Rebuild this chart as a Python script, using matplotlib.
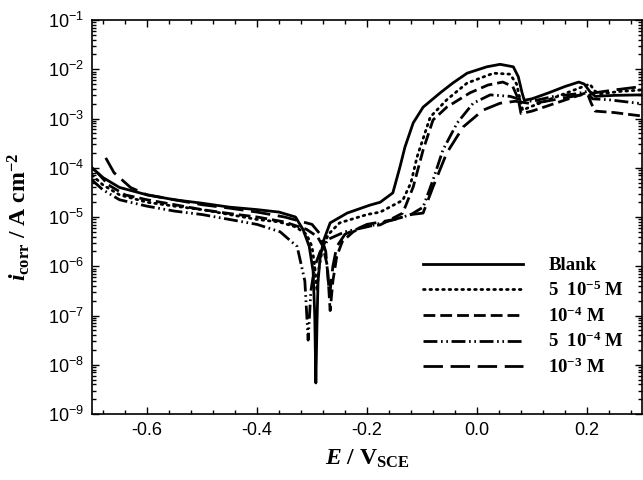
import numpy as np
import matplotlib
matplotlib.use("Agg")
import matplotlib.pyplot as plt
from matplotlib.ticker import MultipleLocator, LogLocator, FixedLocator, NullFormatter

plt.rcParams['mathtext.fontset'] = 'custom'
plt.rcParams['mathtext.rm'] = 'Liberation Serif:bold'
plt.rcParams['mathtext.it'] = 'Liberation Serif:italic:bold'
plt.rcParams['mathtext.bf'] = 'Liberation Serif:bold'
plt.rcParams['mathtext.default'] = 'regular'
plt.rcParams['lines.scale_dashes'] = False

# potential (V vs SCE) and log10 of current density
E_blank = [-0.70, -0.68, -0.65, -0.60, -0.55, -0.50, -0.45, -0.40, -0.36, -0.33, -0.316, -0.305,
           -0.298, -0.295, -0.293, -0.291, -0.289, -0.285, -0.278, -0.267, -0.236, -0.195, -0.176,
           -0.153, -0.14, -0.131, -0.116, -0.098, -0.067, -0.044, -0.018, 0.018, 0.042, 0.066,
           0.075, 0.082, 0.086, 0.10, 0.13, 0.16, 0.185, 0.195, 0.205, 0.215, 0.25, 0.30]
logi_blank = [-4.0, -4.2, -4.4, -4.55, -4.65, -4.72, -4.8, -4.85, -4.9, -5.0, -5.26, -5.6,
              -6.1, -7.0, -8.37, -7.2, -6.3, -5.8, -5.45, -5.12, -4.92, -4.76, -4.7,
              -4.51, -3.98, -3.58, -3.09, -2.77, -2.48, -2.28, -2.08, -1.95, -1.9, -1.95,
              -2.15, -2.48, -2.63, -2.6, -2.48, -2.35, -2.26, -2.3, -2.45, -2.55, -2.53, -2.52]

E_5e5 = [-0.70, -0.68, -0.65, -0.60, -0.55, -0.50, -0.45, -0.40, -0.36, -0.33, -0.31, -0.30,
         -0.295, -0.291, -0.287, -0.28, -0.27, -0.25, -0.20, -0.176, -0.135, -0.12, -0.109,
         -0.085, -0.055, -0.018, 0.03, 0.06, 0.072, 0.078, 0.083, 0.10, 0.13, 0.17, 0.205,
         0.215, 0.225, 0.26, 0.30]
logi_5e5 = [-4.15, -4.35, -4.55, -4.7, -4.78, -4.85, -4.95, -5.05, -5.1, -5.2, -5.35, -5.6,
            -6.0, -6.5, -6.0, -5.6, -5.35, -5.12, -4.95, -4.9, -4.66, -4.3, -3.78,
            -2.97, -2.62, -2.28, -2.08, -2.1, -2.3, -2.6, -2.83, -2.75, -2.62, -2.45, -2.3,
            -2.45, -2.5, -2.45, -2.42]

E_1e4 = [-0.69, -0.67, -0.64, -0.60, -0.55, -0.50, -0.45, -0.40, -0.35, -0.31, -0.29, -0.28,
         -0.272, -0.267, -0.262, -0.255, -0.245, -0.225, -0.207, -0.176, -0.135, -0.116,
         -0.098, -0.08, -0.055, -0.013, 0.02, 0.047, 0.065, 0.075, 0.08, 0.10, 0.14, 0.18,
         0.20, 0.208, 0.215, 0.25, 0.30]
logi_1e4 = [-4.1, -4.35, -4.55, -4.65, -4.75, -4.85, -4.93, -5.0, -5.1, -5.25, -5.4, -5.6,
            -6.0, -6.9, -6.3, -5.8, -5.5, -5.3, -5.2, -5.16, -4.92, -4.39,
            -3.64, -3.03, -2.77, -2.48, -2.32, -2.26, -2.35, -2.6, -2.9, -2.85, -2.7, -2.55,
            -2.47, -2.7, -2.85, -2.88, -2.95]

E_5e4 = [-0.70, -0.68, -0.65, -0.60, -0.55, -0.50, -0.45, -0.40, -0.358, -0.327, -0.313,
         -0.307, -0.302, -0.295, -0.285, -0.27, -0.24, -0.20, -0.15, -0.12, -0.098, -0.08,
         -0.062, -0.036, -0.007, 0.024, 0.06, 0.08, 0.10, 0.14, 0.18, 0.20, 0.21, 0.24, 0.30]
logi_5e4 = [-4.25, -4.45, -4.65, -4.78, -4.88, -4.95, -5.05, -5.15, -5.3, -5.6, -6.3,
            -7.5, -6.5, -6.0, -5.7, -5.45, -5.3, -5.2, -5.05, -4.95, -4.8, -4.25,
            -3.64, -3.09, -2.69, -2.52, -2.55, -2.62, -2.65, -2.55, -2.5, -2.45, -2.6, -2.62, -2.7]

E_1e3 = [-0.675, -0.66, -0.63, -0.60, -0.55, -0.50, -0.45, -0.40, -0.35, -0.30, -0.285,
         -0.275, -0.268, -0.262, -0.255, -0.24, -0.20, -0.15, -0.12, -0.098, -0.08, -0.055,
         -0.025, 0.011, 0.042, 0.07, 0.10, 0.15, 0.20, 0.25, 0.30]
logi_1e3 = [-3.8, -4.1, -4.4, -4.55, -4.65, -4.75, -4.82, -4.9, -5.0, -5.15, -5.35,
            -5.7, -6.6, -6.0, -5.6, -5.35, -5.15, -5.05, -4.95, -4.92, -4.39, -3.7,
            -3.17, -2.83, -2.69, -2.65, -2.7, -2.6, -2.5, -2.42, -2.35]

labels = ['Blank', '5  10$^{-5}$ M', '10$^{-4}$ M', '5  10$^{-4}$ M', '10$^{-3}$ M']

fig = plt.figure(figsize=(6.43, 4.8), dpi=100)
ax = fig.add_axes([92 / 643, 1 - 414 / 480, 550 / 643, 394 / 480])

lw = 2.0
ax.plot(E_blank, 10 ** np.array(logi_blank), color='black', lw=lw, ls='-', label=labels[0])
ax.plot(E_5e5, 10 ** np.array(logi_5e5), color='black', lw=lw, ls=(0, (1.2, 3.4)),
        dash_capstyle='round', label=labels[1])
ax.plot(E_1e4, 10 ** np.array(logi_1e4), color='black', lw=lw, ls=(0, (8.5, 3.6)), label=labels[2])
ax.plot(E_5e4, 10 ** np.array(logi_5e4), color='black', lw=lw,
        ls=(0, (10, 2.6, 1.2, 2.6, 1.2, 2.6)), label=labels[3])
ax.plot(E_1e3, 10 ** np.array(logi_1e3), color='black', lw=lw, ls=(0, (14, 5.5)), label=labels[4])

ax.set_yscale('log')
ax.set_xlim(-0.7, 0.3)
ax.set_ylim(1e-9, 1e-1)

ax.xaxis.set_minor_locator(MultipleLocator(0.04))
ax.set_xticks([-0.6, -0.4, -0.2, 0.0, 0.2])
ax.set_xticklabels(['-0.6', '-0.4', '-0.2', '0.0', '0.2'])
decades = list(range(-9, 0))
ax.yaxis.set_major_locator(FixedLocator([10.0 ** d for d in decades]))
ax.set_yticklabels(['10$^{%d}$' % d for d in decades])
ax.yaxis.set_minor_locator(LogLocator(base=10, subs=np.arange(2, 10), numticks=20))
ax.yaxis.set_minor_formatter(NullFormatter())

ax.tick_params(which='both', direction='in', top=True, right=True, width=1)
ax.tick_params(which='major', length=5, labelsize=13, pad=6)
ax.tick_params(which='minor', length=3)
for lab in ax.get_xticklabels() + ax.get_yticklabels():
    lab.set_fontfamily('Liberation Sans')
for sp in ax.spines.values():
    sp.set_linewidth(1.2)

ax.set_xlabel(r'$\mathit{E}$ / V$_{\rm SCE}$', fontsize=17, fontfamily='Liberation Serif',
              fontweight='bold', labelpad=6)
ax.set_ylabel(r'$\mathit{i}_{\rm corr}$ / A cm$^{-2}$', fontsize=17, fontfamily='Liberation Serif',
              fontweight='bold', labelpad=11)

leg = ax.legend(loc='center left', bbox_to_anchor=(0.602, 0.246), frameon=False,
                borderpad=0, borderaxespad=0, handlelength=5.35, handletextpad=1.33,
                labelspacing=0.33, prop={'family': 'Liberation Serif', 'weight': 'bold', 'size': 13.5})

fig.savefig('out.png', dpi=100)
